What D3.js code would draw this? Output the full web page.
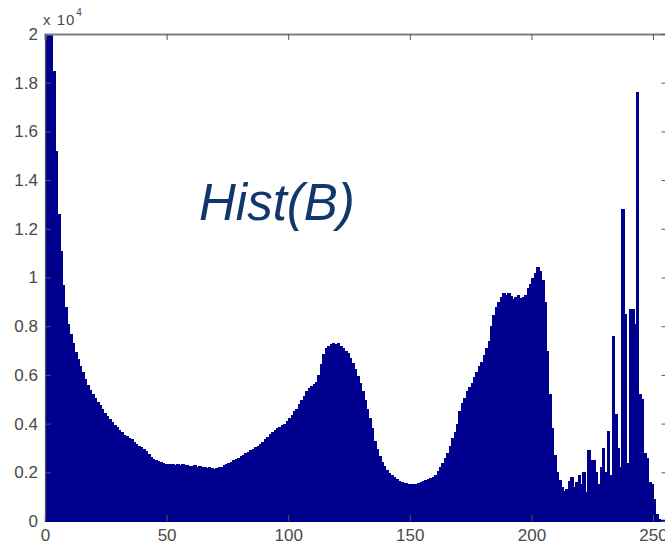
<!DOCTYPE html>
<html>
<head>
<meta charset="utf-8">
<script src="https://cdn.jsdelivr.net/npm/d3@7"></script>
<style>
  body { margin: 0; background: #fff; }
  .tick text { font-family: "Liberation Sans", Arial, sans-serif; }
</style>
</head>
<body>
<div id="hist_chart"></div>
<script>
// pixel counts per intensity level 0..255
var counts = [
  23500, 22000, 20500, 18500, 15200, 12600, 11100, 9700, 8800, 8100,
  7700, 7300, 6950, 6650, 6350, 6100, 5850, 5600, 5400, 5200,
  5050, 4900, 4750, 4600, 4450, 4300, 4200, 4050, 3950, 3850,
  3750, 3650, 3550, 3480, 3400, 3350, 3250, 3180, 3100, 3050,
  2950, 2880, 2750, 2620, 2560, 2500, 2450, 2420, 2380, 2350,
  2330, 2360, 2340, 2310, 2350, 2300, 2330, 2290, 2310, 2270,
  2260, 2280, 2230, 2250, 2210, 2200, 2180, 2200, 2160, 2150,
  2170, 2200, 2230, 2280, 2330, 2380, 2440, 2500, 2550, 2600,
  2650, 2720, 2780, 2850, 2900, 2960, 3020, 3080, 3150, 3250,
  3350, 3450, 3560, 3650, 3720, 3800, 3870, 3930, 4000, 4100,
  4250, 4350, 4500, 4620, 4800, 4950, 5150, 5350, 5450, 5550,
  5620, 5700, 6000, 6450, 6850, 7100, 7200, 7250, 7320, 7280,
  7300, 7180, 7100, 6980, 6880, 6700, 6500, 6250, 5950, 5650,
  5350, 4950, 4600, 4250, 3800, 3300, 2950, 2650, 2420, 2250,
  2100, 1980, 1880, 1800, 1720, 1660, 1600, 1570, 1550, 1530,
  1510, 1520, 1500, 1550, 1600, 1650, 1700, 1720, 1760, 1800,
  1900, 2050, 2200, 2400, 2600, 2800, 3100, 3400, 3650, 4000,
  4500, 4850, 5050, 5350, 5500, 5650, 5900, 6100, 6350, 6550,
  6800, 7100, 7400, 8000, 8450, 8800, 9000, 9200, 9350, 9300,
  9380, 9250, 9100, 9200, 9300, 9150, 9180, 9300, 9550, 9750,
  10000, 10200, 10450, 10250, 9900, 9000, 7000, 5200, 3800, 2700,
  2000, 1700, 1400, 1250, 1300, 1650, 1800, 1400, 1600, 1900,
  1500, 2000, 1200, 2900, 2500, 2500, 2000, 1500, 2200, 3000,
  2000, 3700, 1900, 7600, 4400, 3000, 2200, 12800, 8500, 2400,
  8700, 8700, 8100, 17600, 5200, 5000, 2800, 2600, 1600, 1500,
  900, 300, 100, 0, 0, 0
];
var xTicks = [0, 50, 100, 150, 200, 250];
var yTicks = [0, 2000, 4000, 6000, 8000, 10000, 12000, 14000, 16000, 18000, 20000];
var yTickLabels = ["0", "0.2", "0.4", "0.6", "0.8", "1", "1.2", "1.4", "1.6", "1.8", "2"];
var chartTitle = "Hist(B)";

var width = 665, height = 547;
var plot = { left: 45, top: 34, right: 667.6, bottom: 521 };

var svg = d3.select("#hist_chart")
    .append("svg")
    .attr("width", width)
    .attr("height", height)
    .style("display", "block");

svg.append("rect")
    .attr("width", width)
    .attr("height", height)
    .attr("fill", "#fff");

var x = d3.scaleLinear().domain([0, 256]).range([plot.left, plot.right]);
var y = d3.scaleLinear().domain([0, 20000]).range([plot.bottom, plot.top]);

svg.append("clipPath")
    .attr("id", "plot_clip")
    .append("rect")
    .attr("x", plot.left)
    .attr("y", plot.top)
    .attr("width", plot.right - plot.left)
    .attr("height", plot.bottom - plot.top);

// bars, widened by 1px and drawn crisp so neighbours leave no seams
svg.append("g")
    .attr("clip-path", "url(#plot_clip)")
    .attr("shape-rendering", "crispEdges")
    .selectAll("rect")
    .data(counts)
    .join("rect")
    .attr("x", (d, i) => x(i))
    .attr("y", d => y(d))
    .attr("width", (d, i) => x(i + 1) - x(i) + 1)
    .attr("height", d => y(0) - y(d))
    .attr("fill", "#00008f");

// zero-height bars still show their edge on the baseline
svg.append("line")
    .attr("x1", plot.left)
    .attr("x2", plot.right)
    .attr("y1", plot.bottom - 0.5)
    .attr("y2", plot.bottom - 0.5)
    .attr("stroke", "#00008f")
    .attr("stroke-width", 1.5);

var tickColor = "#4a4a4a";

var leftAxis = svg.append("g")
    .attr("transform", "translate(" + plot.left + ",0)")
    .call(d3.axisLeft(y).tickValues(yTicks).tickSize(-6).tickPadding(7)
        .tickFormat((d, i) => yTickLabels[i]));

var bottomAxis = svg.append("g")
    .attr("transform", "translate(0," + plot.bottom + ")")
    .call(d3.axisBottom(x).tickValues(xTicks).tickSize(-6).tickPadding(8));

var topAxis = svg.append("g")
    .attr("transform", "translate(0," + plot.top + ")")
    .call(d3.axisTop(x).tickValues(xTicks).tickSize(-6).tickFormat(""));

var rightAxis = svg.append("g")
    .attr("transform", "translate(" + plot.right + ",0)")
    .call(d3.axisRight(y).tickValues(yTicks).tickSize(-6).tickFormat(""));

[leftAxis, bottomAxis, topAxis, rightAxis].forEach(function (ax) {
    ax.selectAll(".domain").attr("stroke", "#555").attr("stroke-width", 1.2);
    ax.selectAll(".tick line").attr("stroke", "#555");
    ax.selectAll(".tick text")
        .attr("fill", tickColor)
        .style("font-size", "17px");
});
topAxis.select(".domain").attr("stroke", "#808080").attr("stroke-width", 2);
bottomAxis.select(".domain").attr("stroke", "#00008f");

// exponent label above the y axis
var expo = svg.append("text")
    .attr("x", 43)
    .attr("y", 25)
    .attr("fill", tickColor)
    .style("font-family", "'Liberation Sans', Arial, sans-serif")
    .style("font-size", "15px")
    .style("letter-spacing", "1px");
expo.append("tspan").text("x 10");
expo.append("tspan")
    .attr("dx", 1)
    .attr("dy", -9)
    .style("font-size", "10px")
    .text("4");

svg.append("text")
    .attr("x", 199)
    .attr("y", 220)
    .attr("fill", "#12386b")
    .style("font-family", "'Liberation Sans', Arial, sans-serif")
    .style("font-style", "italic")
    .style("font-size", "51px")
    .text(chartTitle);
</script>
</body>
</html>
